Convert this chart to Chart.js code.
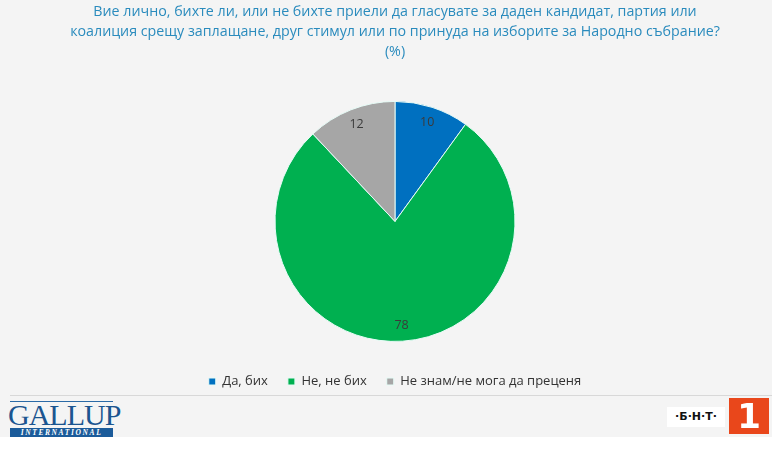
<!DOCTYPE html>
<html>
<head>
<meta charset="utf-8">
<script src="https://cdn.jsdelivr.net/npm/chart.js@4.4.1/dist/chart.umd.min.js"></script>
<style>
  html, body { margin: 0; padding: 0; background: #fff; }
  #page { position: relative; width: 772px; height: 437px; background: #f4f4f4; overflow: hidden; }
  #chartBox { position: absolute; left: 0; top: 0; width: 772px; height: 398px; }
  #rule { position: absolute; left: 10px; right: 0; top: 395px; height: 1px; background: #d8d8d8; }
  #gallup { position: absolute; left: 8px; top: 401px; width: 107px; }
  #gallup .top { height: 1px; background: #2b6aa6; margin: 0 2px 1px 2px; }
  #gallup .name { font-family: "Liberation Serif", serif; font-size: 30px; line-height: 24px; color: #1b5590; letter-spacing: -1px; text-align: center; }
  #gallup .intl { background: #1b5b9a; color: #fff; font-family: "Liberation Serif", serif; font-style: italic; font-weight: bold; font-size: 7.5px; letter-spacing: 1.6px; text-align: center; height: 9px; line-height: 9px; margin: 1px 2px 0 2px; }
  #bnt { position: absolute; left: 667px; top: 407px; width: 58px; height: 20px; background: #fff; font-family: "DejaVu Sans", sans-serif; font-weight: bold; font-size: 11px; line-height: 20px; text-align: center; color: #111; }
  #one { position: absolute; left: 729px; top: 398px; width: 40px; height: 36px; background: #e9471b; color: #fff; font-family: "DejaVu Sans", sans-serif; font-weight: bold; font-size: 34px; line-height: 36px; text-align: center; }
</style>
</head>
<body>
<div id="page">
  <div id="chartBox"><canvas id="pieChart"></canvas></div>
  <div id="rule"></div>
  <div id="gallup">
    <div class="top"></div>
    <div class="name">GALLUP</div>
    <div class="intl">INTERNATIONAL</div>
  </div>
  <div id="bnt">·Б·Н·Т·</div>
  <div id="one">1</div>
</div>
<script>
  const titleLines = [
    "Вие лично, бихте ли, или не бихте приели да гласувате за даден кандидат, партия или",
    "коалиция срещу заплащане, друг стимул или по принуда на изборите за Народно събрание?",
    "(%)"
  ];
  const categories = ["Да, бих", "Не, не бих", "Не знам/не мога да преценя"];
  const shares = [10, 78, 12];
  const sliceColors = ["#0070c0", "#00b050", "#a6a6a6"];

  const FONT = "'Open Sans', 'Noto Sans', sans-serif";

  /* числа в резенчетата */
  const sliceLabels = {
    id: "sliceLabels",
    afterDatasetsDraw(chart) {
      const ctx = chart.ctx;
      const meta = chart.getDatasetMeta(0);
      ctx.save();
      ctx.font = "12.5px " + FONT;
      ctx.fillStyle = "#3a3a3a";
      ctx.textAlign = "center";
      ctx.textBaseline = "middle";
      meta.data.forEach(function (arc, i) {
        const p = arc.getProps(["x", "y", "startAngle", "endAngle", "outerRadius"], true);
        const mid = (p.startAngle + p.endAngle) / 2;
        const r = p.outerRadius * 0.87;
        ctx.fillText(String(shares[i]), p.x + Math.cos(mid) * r, p.y + Math.sin(mid) * r);
      });
      ctx.restore();
    }
  };

  new Chart(document.getElementById("pieChart"), {
    type: "pie",
    data: {
      labels: categories,
      datasets: [{
        data: shares,
        backgroundColor: sliceColors,
        borderColor: "#e6fbf6",
        borderWidth: 1,
        radius: 120
      }]
    },
    options: {
      responsive: true,
      maintainAspectRatio: false,
      animation: false,
      layout: { padding: { left: 18, bottom: 0 } },
      plugins: {
        title: {
          display: true,
          text: titleLines,
          color: "#2a8bbd",
          font: { family: FONT, size: 14.25, weight: "normal", lineHeight: 1.4 },
          padding: { top: 2, bottom: 26 }
        },
        legend: {
          position: "bottom",
          labels: {
            boxWidth: 7,
            boxHeight: 7,
            padding: 20,
            color: "#333333",
            font: { family: FONT, size: 13 }
          }
        },
        tooltip: { enabled: false }
      }
    },
    plugins: [sliceLabels]
  });
</script>
</body>
</html>
